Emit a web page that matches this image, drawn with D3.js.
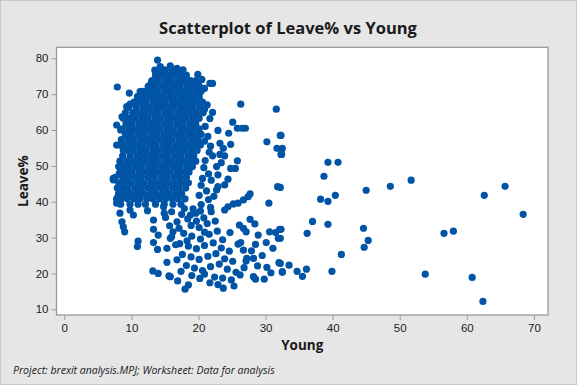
<!DOCTYPE html>
<html>
<head>
<meta charset="utf-8">
<script src="https://cdn.jsdelivr.net/npm/d3@7"></script>
<style>
  body { margin: 0; background: #e6e6e6; }
  svg { display: block; font-family: "Segoe UI", "Open Sans", sans-serif; }
</style>
</head>
<body>
<div class="chart"></div>
<script>
// ticks
var xTicks = [0, 10, 20, 30, 40, 50, 60, 70]
var yTicks = [10, 20, 30, 40, 50, 60, 70, 80]

// [Young, Leave%] - dense core of the cloud
var corePoints = [
    [14.1,76.8],[15.0,76.8],[16.0,76.8],[16.9,76.8],[17.7,76.8],
    [13.6,75.3],[14.5,75.3],[15.5,75.3],[16.4,75.3],[17.3,75.3],[18.2,75.3],[19.9,75.5],
    [13.1,73.8],[14.0,73.8],[15.0,73.8],[15.9,73.8],[16.9,73.8],[17.8,73.8],[18.8,73.8],[19.6,73.8],[20.5,74.1],
    [12.6,72.3],[13.5,72.3],[14.5,72.3],[15.4,72.3],[16.4,72.3],[17.3,72.3],[18.3,72.3],[19.2,72.3],[20.1,72.3],
    [11.6,70.8],[12.2,70.8],[13.1,70.8],[14.0,70.8],[15.0,70.8],[15.9,70.8],[16.9,70.8],[17.8,70.8],[18.7,70.8],[19.7,70.8],[20.4,70.8],
    [10.9,69.3],[11.8,69.3],[12.7,69.3],[13.6,69.3],[14.5,69.3],[15.5,69.3],[16.4,69.3],[17.4,69.3],[18.3,69.3],[19.2,69.3],[20.1,69.3],
    [10.4,67.8],[11.3,67.8],[12.2,67.8],[13.2,67.8],[14.1,67.8],[15.0,67.8],[16.0,67.8],[16.9,67.8],[17.9,67.8],[18.8,67.8],[19.7,67.8],[20.6,67.8],
    [9.6,66.3],[10.7,66.3],[11.7,66.3],[12.6,66.3],[13.6,66.3],[14.5,66.3],[15.5,66.3],[16.4,66.3],[17.4,66.3],[18.3,66.3],[19.2,66.3],[20.2,66.3],
    [9.1,64.8],[10.2,64.8],[11.2,64.8],[12.1,64.8],[13.1,64.8],[14.0,64.8],[15.0,64.8],[15.9,64.8],[16.9,64.8],[17.8,64.8],[18.8,64.8],[19.7,64.8],[20.7,64.8],
    [8.8,63.3],[9.7,63.3],[10.6,63.3],[11.6,63.3],[12.5,63.3],[13.5,63.3],[14.4,63.3],[15.4,63.3],[16.3,63.3],[17.3,63.3],[18.2,63.3],[19.2,63.3],[20.1,63.3],
    [9.2,61.8],[10.1,61.8],[11.1,61.8],[12.0,61.8],[13.0,61.8],[13.9,61.8],[14.9,61.8],[15.8,61.8],[16.8,61.8],[17.7,61.8],[18.7,61.8],[19.6,61.8],
    [8.6,60.3],[9.6,60.3],[10.5,60.3],[11.5,60.3],[12.4,60.3],[13.4,60.3],[14.3,60.3],[15.3,60.3],[16.2,60.3],[17.2,60.3],[18.1,60.3],[19.1,60.3],[20.1,60.3],
    [9.1,58.8],[10.0,58.8],[11.0,58.8],[11.9,58.8],[12.9,58.8],[13.8,58.8],[14.8,58.8],[15.7,58.8],[16.7,58.8],[17.6,58.8],[18.6,58.8],[19.5,58.8],[20.4,58.8],
    [8.5,57.3],[9.5,57.3],[10.4,57.3],[11.4,57.3],[12.3,57.3],[13.3,57.3],[14.2,57.3],[15.2,57.3],[16.1,57.3],[17.1,57.3],[18.0,57.3],[19.0,57.3],[19.9,57.3],
    [8.2,55.8],[9.0,55.8],[9.9,55.8],[10.9,55.8],[11.8,55.8],[12.8,55.8],[13.7,55.8],[14.7,55.8],[15.6,55.8],[16.6,55.8],[17.5,55.8],[18.5,55.8],[19.4,55.8],[20.3,55.8],
    [8.8,54.3],[9.4,54.3],[10.3,54.3],[11.3,54.3],[12.2,54.3],[13.2,54.3],[14.1,54.3],[15.1,54.3],[16.0,54.3],[17.0,54.3],[17.9,54.3],[18.9,54.3],[19.8,54.3],
    [8.7,52.8],[9.8,52.8],[10.8,52.8],[11.7,52.8],[12.7,52.8],[13.6,52.8],[14.6,52.8],[15.5,52.8],[16.5,52.8],[17.4,52.8],[18.4,52.8],[19.3,52.8],
    [8.3,51.3],[9.3,51.3],[10.2,51.3],[11.2,51.3],[12.1,51.3],[13.1,51.3],[14.0,51.3],[15.0,51.3],[15.9,51.3],[16.9,51.3],[17.8,51.3],[18.8,51.3],[19.6,51.3],
    [8.1,49.8],[8.8,49.8],[9.7,49.8],[10.7,49.8],[11.6,49.8],[12.6,49.8],[13.5,49.8],[14.5,49.8],[15.4,49.8],[16.4,49.8],[17.3,49.8],[18.3,49.8],[19.1,49.8],
    [8.4,48.3],[9.2,48.3],[10.1,48.3],[11.1,48.3],[12.0,48.3],[13.0,48.3],[13.9,48.3],[14.9,48.3],[15.8,48.3],[16.8,48.3],[17.7,48.3],[18.6,48.3],
    [7.6,46.8],[8.7,46.8],[9.6,46.8],[10.6,46.8],[11.5,46.8],[12.5,46.8],[13.4,46.8],[14.4,46.8],[15.3,46.8],[16.3,46.8],[17.2,46.8],[18.2,46.8],
    [8.1,45.3],[9.1,45.3],[10.0,45.3],[11.0,45.3],[11.9,45.3],[12.9,45.3],[13.8,45.3],[14.8,45.3],[15.7,45.3],[16.7,45.3],[17.6,45.3],[18.5,45.3],
    [7.9,43.8],[8.6,43.8],[9.5,43.8],[10.5,43.8],[11.4,43.8],[12.4,43.8],[13.3,43.8],[14.3,43.8],[15.2,43.8],[16.2,43.8],[17.1,43.8],[18.1,43.8],
    [8.1,42.3],[9.0,42.3],[9.9,42.3],[10.9,42.3],[11.8,42.3],[12.8,42.3],[13.7,42.3],[14.7,42.3],[15.6,42.3],[16.6,42.3],[17.5,42.3],
    [7.8,40.8],[8.5,40.8],[9.4,40.8],[10.4,40.8],[11.3,40.8],[12.3,40.8],[13.2,40.8],[14.2,40.8],[15.1,40.8],[16.1,40.8],[17.0,40.8],[18.0,40.8],
    [8.4,39.3],[9.8,39.3],[11.0,39.3],[12.1,39.3],[13.6,39.3],[14.9,39.3],[16.2,39.3],[17.4,39.3]
]

// [Young, Leave%] - ragged edge of the core
var edgePoints = [
    [13.9,79.5],[7.9,72.0],[9.7,70.3],[11.3,70.7],[7.8,61.4],[8.4,60.0],[7.8,55.8],[8.9,54.6],
    [7.3,46.5],[8.2,47.9],[8.6,63.7],[9.3,66.5],[9.8,67.2],[10.8,67.9],[11.5,70.2],[12.5,72.1],
    [13.0,73.5],[13.5,76.7],[14.3,77.7],[15.8,77.9],[16.8,77.2],
    [21.7,73.0],[22.1,73.0],[20.1,68.6],[26.3,67.2],[31.6,65.8],[22.1,64.9],[20.9,65.8],[25.1,62.2],
    [27.0,60.5],[26.5,60.5],[25.8,60.5],[22.9,59.9],[24.5,59.1],[32.2,58.5],[30.2,56.7],[24.8,56.0],
    [31.7,54.9],[32.4,54.6],[32.3,53.2],[23.2,56.3],[23.7,54.9],[21.8,55.5],[22.1,52.8],[23.2,53.2],
    [23.9,52.8],[25.8,51.4],[24.8,49.3],[25.5,49.3],[22.7,49.8],[24.4,46.3],[31.8,44.2],[22.9,44.2],
    [23.9,44.7],[22.7,43.3],[30.5,39.6],[27.7,42.2],[27.4,41.4],[26.7,40.5],[25.9,39.6],[25.2,39.4],
    [24.4,38.6],[23.9,37.7],
    [21.0,61.0],[21.4,58.2],[20.9,56.9],[21.6,53.8],[21.0,51.5],[20.8,49.5],[21.5,47.8],[20.6,46.5],
    [21.9,46.0],[20.4,44.6],[21.2,43.0],[20.1,41.8],[21.5,40.6],[20.4,39.2],[22.3,41.5],[21.8,38.4],
    [19.2,38.0],[20.3,37.4],[22.9,47.5],[23.4,50.9],[21.7,63.2],[21.3,67.0],[20.9,71.6]
]

// [Young, Leave%] - lower part of the cloud
var lowerPoints = [
    [7.3,46.1],[8.0,41.4],[7.8,39.6],[8.3,36.8],[8.6,34.4],[8.8,33.0],[9.0,31.6],[9.8,37.7],
    [10.3,36.3],[12.4,37.5],[13.3,34.9],[13.3,32.3],[14.0,30.7],[11.0,29.0],[10.9,27.5],[13.3,28.6],
    [13.9,26.7],[15.3,27.0],[15.8,29.8],[16.6,28.0],[15.3,23.1],[13.2,20.7],[14.0,20.0],[15.6,19.3],
    [16.8,34.4],[16.8,23.8],[16.2,31.6],[16.0,30.2],[14.8,38.6],[14.3,41.4],
    [27.7,35.1],[28.4,33.8],[26.1,33.5],[26.7,32.6],[27.1,31.6],[24.7,31.4],[30.6,31.6],[31.5,31.4],
    [32.1,32.3],[31.9,29.8],[31.1,27.0],[28.9,30.7],[28.5,28.1],[25.9,28.2],[26.3,28.6],[26.7,26.5],
    [27.2,24.2],[27.1,23.5],[28.2,24.2],[28.8,22.1],[30.2,21.7],[28.2,19.1],[28.5,18.4],[29.8,18.4],
    [30.8,20.2],[32.0,23.0],[32.5,20.5],[23.7,15.9],[21.7,17.4],[18.0,15.6],[18.5,16.8],[20.2,18.6],
    [15.8,19.1],
    [17.5,36.5],[18.4,35.2],[19.6,36.8],[20.8,35.5],[21.9,37.2],[18.9,33.4],[20.1,32.8],[21.3,33.9],
    [22.5,34.6],[17.8,31.2],[19.0,30.4],[20.3,29.6],[21.6,30.9],[22.8,31.8],[23.6,29.4],[17.2,28.3],
    [18.5,27.6],[19.7,26.9],[20.9,27.8],[22.2,28.5],[23.4,27.1],[24.6,26.2],[17.6,25.3],[18.9,24.6],
    [20.1,23.9],[21.4,24.8],[22.6,25.5],[23.9,24.1],[25.1,23.4],[18.2,22.2],[19.4,21.5],[20.6,20.8],
    [21.8,21.9],[23.1,22.6],[24.3,21.2],[25.6,20.3],[19.0,19.4],[20.9,19.8],[22.4,19.0],[23.6,18.7],
    [24.9,18.2],[26.2,19.6],[17.4,20.6],[16.9,17.9],[22.9,16.9],[25.3,16.5],[26.8,21.6],[27.9,26.3],
    [29.5,25.0],[30.1,28.6],
    [15.1,35.6],[16.0,37.2],[17.9,38.1],[18.8,36.3],[15.7,33.3],[17.1,32.6],[19.7,34.6],[18.3,29.1],
    [14.9,36.8],[20.9,31.5]
]

// [Young, Leave%] - scattered points on the right
var outlierPoints = [
    [39.3,51.0],[40.8,51.0],[38.7,47.1],[51.7,46.0],[48.6,44.3],[65.7,44.3],[45.0,43.2],[62.6,41.8],
    [40.4,41.8],[38.2,40.7],[39.3,40.1],[68.4,36.5],[37.0,34.5],[39.3,33.7],[44.6,32.6],[36.2,31.2],
    [56.6,31.2],[58.0,31.8],[45.3,29.2],[44.7,27.3],[41.3,25.3],[33.5,22.3],[34.7,20.6],[36.1,21.2],
    [35.5,19.2],[39.9,20.6],[53.8,19.8],[60.8,18.9],[62.4,12.2],[32.5,20.3],[32.3,58.5],[32.5,54.9],
    [32.4,53.2],[32.2,44.0],[32.3,32.3],[32.2,29.8],[32.2,22.8]
]

var allPoints = corePoints.concat(edgePoints, lowerPoints, outlierPoints)

var width = 577,
    height = 385,
    frame = { left: 56.5, right: 548, top: 47.3, bottom: 315 },
    dotColor = '#0054a6',
    lineColor = '#9a9a9a',
    textColor = '#1a1a1a'

var svg = d3
    .select('.chart')
    .append('svg')
    .attr('width', width)
    .attr('height', height)

// grey background with thin border
svg.append('rect')
    .attr('x', 0.5)
    .attr('y', 0.5)
    .attr('width', width - 1)
    .attr('height', height - 1)
    .attr('fill', '#e6e6e6')
    .attr('stroke', '#c8c8c8')

var x = d3.scaleLinear().domain([-1.16, 72.1]).range([frame.left, frame.right])
var y = d3.scaleLinear().domain([8.41, 83.07]).range([frame.bottom, frame.top])

// plot area
svg.append('rect')
    .attr('x', frame.left)
    .attr('y', frame.top)
    .attr('width', frame.right - frame.left)
    .attr('height', frame.bottom - frame.top)
    .attr('fill', '#ffffff')
    .attr('stroke', lineColor)
    .attr('stroke-width', 1.3)

// axes
var xAxis = svg.append('g')
    .attr('transform', 'translate(0,' + frame.bottom + ')')
    .call(d3.axisBottom(x).tickValues(xTicks).tickSize(5).tickPadding(4))
var yAxis = svg.append('g')
    .attr('transform', 'translate(' + frame.left + ',0)')
    .call(d3.axisLeft(y).tickValues(yTicks).tickSize(5).tickPadding(3))

;[xAxis, yAxis].forEach(function (a) {
    a.select('.domain').remove()
    a.selectAll('.tick line').attr('stroke', lineColor)
    a.selectAll('.tick text')
        .attr('fill', textColor)
        .style('font-size', '11.5px')
})

// dots
svg.append('g')
    .selectAll('circle')
    .data(allPoints)
    .enter()
    .append('circle')
    .attr('cx', function (d) { return x(d[0]) })
    .attr('cy', function (d) { return y(d[1]) })
    .attr('r', 3.6)
    .attr('fill', dotColor)

// titles
svg.append('text')
    .attr('x', 288)
    .attr('y', 34)
    .attr('text-anchor', 'middle')
    .attr('fill', textColor)
    .style('font-size', '16.5px')
    .style('font-weight', 'bold')
    .text('Scatterplot of Leave% vs Young')

svg.append('text')
    .attr('x', (frame.left + frame.right) / 2)
    .attr('y', 350)
    .attr('text-anchor', 'middle')
    .attr('fill', textColor)
    .style('font-size', '13.5px')
    .style('font-weight', 'bold')
    .text('Young')

svg.append('text')
    .attr('transform', 'translate(28,' + (frame.top + frame.bottom) / 2 + ') rotate(-90)')
    .attr('text-anchor', 'middle')
    .attr('fill', textColor)
    .style('font-size', '13.5px')
    .style('font-weight', 'bold')
    .text('Leave%')

svg.append('text')
    .attr('x', 13)
    .attr('y', 374)
    .attr('fill', textColor)
    .style('font-size', '10.5px')
    .style('font-style', 'italic')
    .text('Project: brexit analysis.MPJ; Worksheet: Data for analysis')
</script>
</body>
</html>
